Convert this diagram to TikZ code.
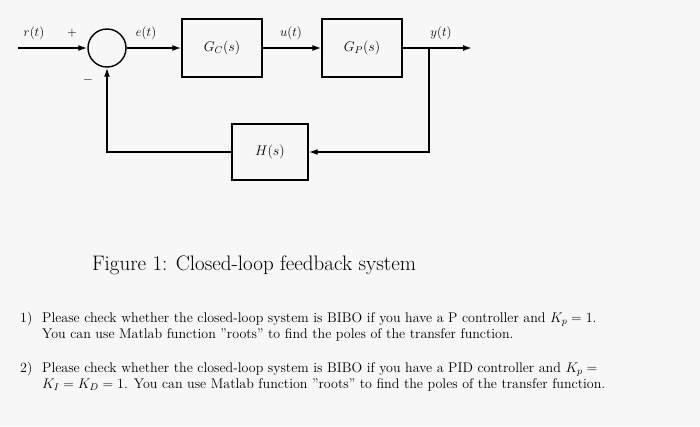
\RequirePackage{fix-cm}
\documentclass[tikz,border=0pt]{standalone}
\usetikzlibrary{arrows.meta}
\begin{document}
\begin{tikzpicture}[x=1pt,y=-1pt,
  blk/.style={draw,line width=1.4pt,minimum width=80pt,minimum height=58pt,font=\fontsize{14}{16}\selectfont},
  sig/.style={line width=1.6pt,-{Latex[length=9pt,width=6pt]}},
  lbl/.style={font=\fontsize{13}{15}\selectfont},
  txt/.style={anchor=north west,align=left,font=\fontsize{14}{16.5}\selectfont,inner sep=0pt}]
\useasboundingbox (0,0) rectangle (700,426);
\fill[gray!6] (0,0) rectangle (700,426);
\node[draw,circle,line width=1.4pt,minimum size=38pt,inner sep=0pt] (sum) at (107,48) {};
\node[blk] (gc) at (222,48) {$G_C(s)$};
\node[blk] (gp) at (362,48) {$G_P(s)$};
\node[blk,minimum width=76pt,minimum height=56pt] (h) at (270,152) {$H(s)$};
\coordinate (in) at (18,48);
\coordinate (br) at (429,48);
\coordinate (out) at (472,48);
\draw[sig] (in) -- (sum.west);
\draw[sig] (sum.east) -- (gc.west);
\draw[sig] (gc.east) -- (gp.west);
\draw[line width=1.6pt] (gp.east) -- (br);
\draw[sig] (br) -- (out);
\draw[sig] (br) |- (h.east);
\draw[sig] (h.west) -| (sum.south);
\node[lbl] (lr) at (34,33) {$r(t)$};
\node[lbl] (lp) at (72,33) {$+$};
\node[lbl] (le) at (146,33) {$e(t)$};
\node[lbl] (lu) at (291,33) {$u(t)$};
\node[lbl] (ly) at (441,33) {$y(t)$};
\node[lbl] (lm) at (88,80) {$-$};
\node[font=\fontsize{21}{25}\selectfont] (cap) at (254,265) {Figure 1: Closed-loop feedback system};
\node[txt] (n1) at (20,312) {1)};
\node[txt] (t1) at (42,312) {Please check whether the closed-loop system is BIBO if you have a P controller and $K_p=1$.\\You can use Matlab function "roots" to find the poles of the transfer function.};
\node[txt] (n2) at (20,362) {2)};
\node[txt] (t2) at (42,362) {Please check whether the closed-loop system is BIBO if you have a PID controller and $K_p=$\\$K_I=K_D=1$. You can use Matlab function "roots" to find the poles of the transfer function.};
\end{tikzpicture}
\end{document}
